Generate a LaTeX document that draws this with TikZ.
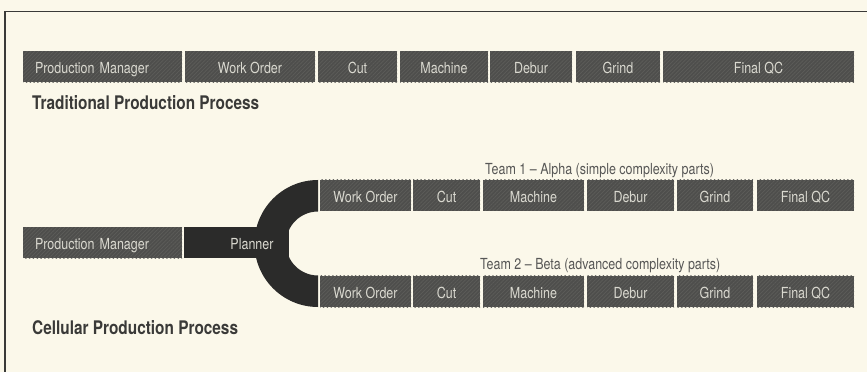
\documentclass[tikz,border=0pt]{standalone}
\usepackage{fontspec}
\setmainfont{TeX Gyre Heros}[FakeStretch=0.82]
\usepackage{tikz}
\usetikzlibrary{patterns.meta}

\definecolor{paper}{HTML}{FBF8EA}
\definecolor{stagefill}{HTML}{4E4E4C}
\definecolor{stagehatch}{HTML}{5D5D5A}
\definecolor{stagetext}{HTML}{DAD9D0}
\definecolor{forkfill}{HTML}{2B2B2A}
\definecolor{ink}{HTML}{3A3A38}

\begin{document}
\begin{tikzpicture}[x=0.03cm,y=-0.03cm,
  stage/.style={rectangle,inner sep=0pt,minimum height=31*0.03cm,
    preaction={fill=stagefill},
    pattern={Lines[angle=45,distance=2.3pt,line width=0.6pt]},pattern color=stagehatch,
    text=stagetext,text height=11.6pt,text depth=0pt,font=\fontsize{13}{15}\selectfont},
  wd/.style={minimum width=#1*0.03cm},
  manager/.style={stage,text width=135*0.03cm,inner xsep=12*0.03cm,align=left},
  heading/.style={anchor=base west,inner sep=0pt,text=ink,font=\fontsize{16}{18}\selectfont\bfseries},
  team/.style={anchor=base west,inner sep=0pt,text=ink!85,font=\fontsize{13}{15}\selectfont}]

  \fill[paper] (0,0) rectangle (867,372);
  \useasboundingbox (0,0) rectangle (867,372);

  % frame
  \draw[ink,line width=1.6pt] (867,11.5) -- (5,11.5) -- (5,372);

  % traditional line
  \node[manager] (tpm) at (102.5,67) {Production Manager};
  \node[stage,wd=130] (two) at (250,67) {Work Order};
  \node[stage,wd=79] (tcut) at (357.5,67) {Cut};
  \node[stage,wd=88] (tmach) at (444,67) {Machine};
  \node[stage,wd=82] (tdeb) at (531,67) {Debur};
  \node[stage,wd=84] (tgrind) at (618,67) {Grind};
  \node[stage,wd=191] (tqc) at (758.5,67) {Final QC};
  \node[heading] (trad) at (32,110) {Traditional Production Process};

  % cellular line: manager, planner and the fork
  \node[manager] (cpm) at (102.5,242.75) {Production Manager};
  \fill[forkfill] (184,227.25) rectangle (289,258.25);
  \fill[forkfill] (318,180) arc[start angle=270,end angle=90,radius=63.5]
    -- (318,275.5) arc[start angle=90,end angle=270,radius=32] -- cycle;
  \node[inner sep=0pt,text=stagetext,text height=11.6pt,text depth=0pt,
    font=\fontsize{13}{15}\selectfont] (plan) at (252,242.75) {Planner};

  % team 1
  \node[team] (alpha) at (485,174.7) {Team 1 -- Alpha (simple complexity parts)};
  \node[stage,wd=91] (awo) at (365.5,195.5) {Work Order};
  \node[stage,wd=67] (acut) at (446.5,195.5) {Cut};
  \node[stage,wd=101] (amach) at (533.5,195.5) {Machine};
  \node[stage,wd=87] (adeb) at (630.5,195.5) {Debur};
  \node[stage,wd=76] (agrind) at (715,195.5) {Grind};
  \node[stage,wd=97] (aqc) at (805.5,195.5) {Final QC};

  % team 2
  \node[team] (beta) at (480,270) {Team 2 -- Beta (advanced complexity parts)};
  \node[stage,wd=91] (bwo) at (365.5,291.5) {Work Order};
  \node[stage,wd=67] (bcut) at (446.5,291.5) {Cut};
  \node[stage,wd=101] (bmach) at (533.5,291.5) {Machine};
  \node[stage,wd=87] (bdeb) at (630.5,291.5) {Debur};
  \node[stage,wd=76] (bgrind) at (715,291.5) {Grind};
  \node[stage,wd=97] (bqc) at (805.5,291.5) {Final QC};

  \node[heading] (cell) at (32,334.3) {Cellular Production Process};
\end{tikzpicture}
\end{document}
